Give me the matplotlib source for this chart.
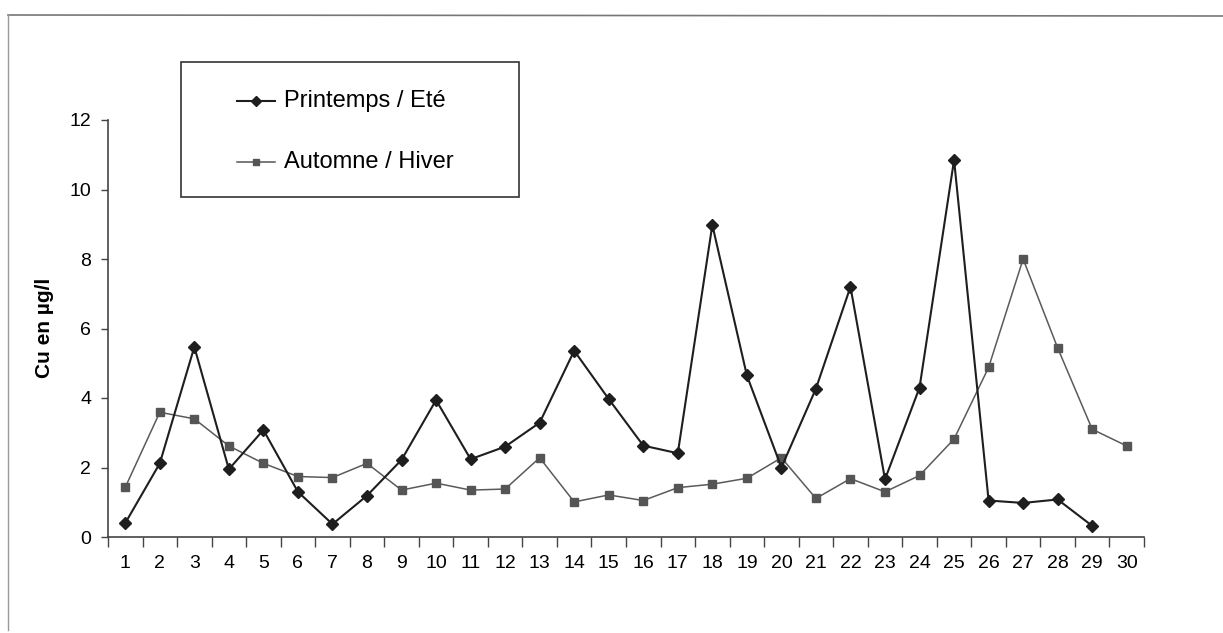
import numpy as np
import matplotlib
matplotlib.use("Agg")
import matplotlib.pyplot as plt
from matplotlib.patches import Rectangle
from matplotlib.lines import Line2D

plt.rcParams['font.family'] = ['Liberation Sans', 'DejaVu Sans']

categories = list(range(1, 31))
printemps_ete = [0.40, 2.12, 5.47, 1.95, 3.08, 1.30, 0.37, 1.19, 2.22, 3.94,
                 2.24, 2.60, 3.29, 5.36, 3.97, 2.63, 2.41, 8.98, 4.65, 2.00,
                 4.27, 7.20, 1.66, 4.30, 10.85, 1.05, 0.98, 1.08, 0.32]
automne_hiver = [1.43, 3.59, 3.40, 2.62, 2.12, 1.74, 1.71, 2.12, 1.35, 1.55,
                 1.35, 1.38, 2.28, 1.01, 1.21, 1.05, 1.42, 1.52, 1.69, 2.28,
                 1.11, 1.68, 1.30, 1.77, 2.82, 4.88, 8.00, 5.44, 3.10, 2.62]
y_ticks = [0, 2, 4, 6, 8, 10, 12]
y_label = "Cu en µg/l"
legend_labels = ["Printemps / Eté", "Automne / Hiver"]

W, H = 1223, 633
fig = plt.figure(figsize=(W/100, H/100), dpi=100)
ax = fig.add_axes([108/W, 1-537/H, (1144-108)/W, (537-120)/H])

c1, c2 = '#1e1e1e', '#555555'
x1 = categories[:len(printemps_ete)]
x2 = categories[:len(automne_hiver)]
ax.plot(x1, printemps_ete, color=c1, lw=1.5, marker='D', ms=6,
        mfc=c1, mec=c1, zorder=3)
ax.plot(x2, automne_hiver, color='#5a5a5a', lw=1.1, marker='s', ms=6,
        mfc=c2, mec=c2, zorder=2)

ax.set_xlim(0.5, 30.5)
ax.set_ylim(0, 12)
ax.set_yticks(y_ticks)
ax.set_yticklabels([str(v) for v in y_ticks], fontsize=14)
ax.set_xticks(np.arange(0.5, 31, 1))
ax.set_xticklabels([])
ax.set_xticks(categories, minor=True)
ax.set_xticklabels([str(c) for c in categories], minor=True, fontsize=14)
ax.tick_params(axis='x', which='major', direction='out', length=7, width=1, color='#444444')
ax.tick_params(axis='x', which='minor', length=0, pad=13)
ax.tick_params(axis='y', direction='out', length=5, width=1, color='#444444', pad=7)

for s in ['top', 'right']:
    ax.spines[s].set_visible(False)
for s in ['left', 'bottom']:
    ax.spines[s].set_color('#444444')
    ax.spines[s].set_linewidth(1.2)

fig.text(45/W, 1-328/H, y_label, rotation=90, ha='center', va='center',
         fontsize=15, fontweight='bold')

# legend drawn in figure pixel coordinates
def fx(px):
    return px / W
def fy(py):
    return 1 - py / H

fig.patches.append(Rectangle((fx(181), fy(197)), fx(519) - fx(181), fy(62) - fy(197),
                             transform=fig.transFigure, fill=True, facecolor='white',
                             edgecolor='#333333', lw=1.2, zorder=5))
entries = [(legend_labels[0], 101, c1, 'D', 1.5, 5),
           (legend_labels[1], 162, c2, 's', 1.1, 5)]
for label, yc, col, mk, lw, ms in entries:
    fig.add_artist(Line2D([fx(237), fx(275)], [fy(yc), fy(yc)], color=col, lw=lw,
                          transform=fig.transFigure, zorder=6))
    fig.add_artist(Line2D([fx(256)], [fy(yc)], color=col, marker=mk, ms=ms,
                          mfc=col, mec=col, transform=fig.transFigure, zorder=6))
    fig.text(fx(284), fy(yc), label, ha='left', va='center', fontsize=17, zorder=7)

# outer frame lines (top and left)
fig.add_artist(Line2D([fx(8), 1.0], [fy(15), fy(16)], color='#777777', lw=1.2,
                      transform=fig.transFigure))
fig.add_artist(Line2D([fx(8), fx(8)], [fy(15), fy(630)], color='#999999', lw=1.0,
                      transform=fig.transFigure))

fig.savefig("out.png", dpi=100)
